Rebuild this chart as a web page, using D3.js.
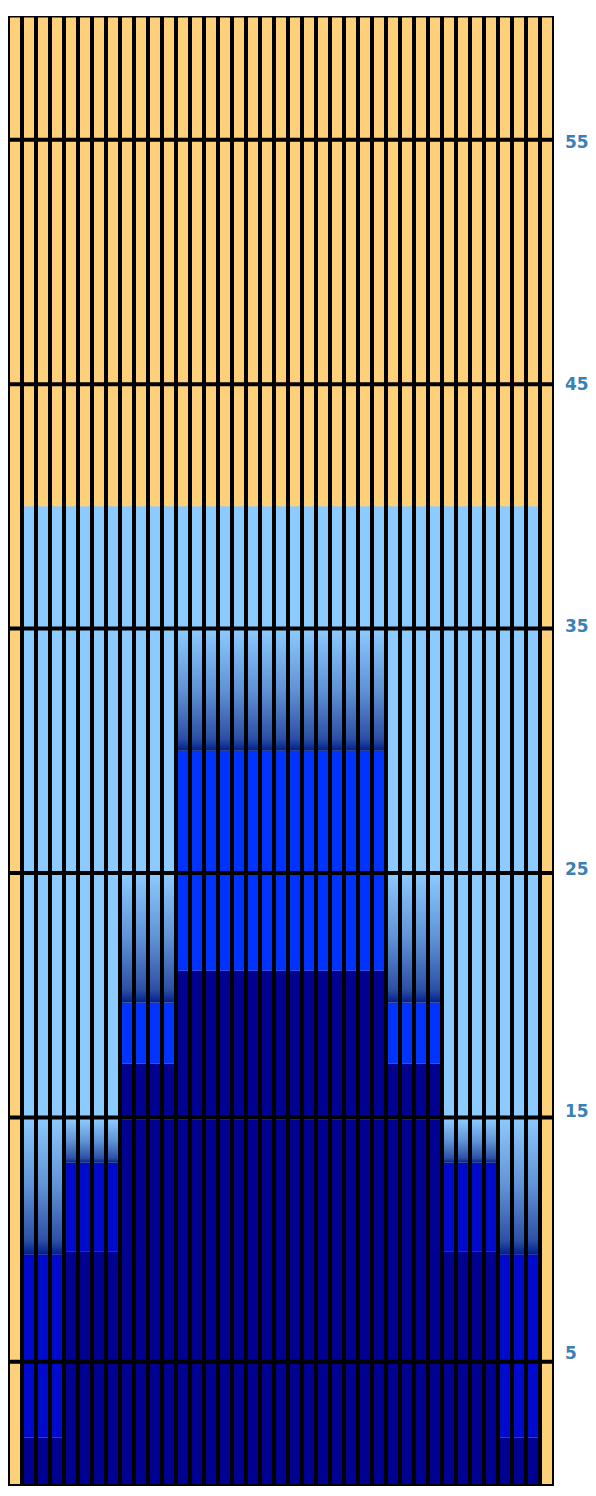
<!DOCTYPE html>
<html>
<head>
<meta charset="utf-8">
<script src="https://cdn.jsdelivr.net/npm/d3@7"></script>
<style>
  html, body { margin: 0; padding: 0; background: #ffffff; }
  svg { display: block; }
</style>
</head>
<body>
<script>
// ---------- data ----------
// profile index of each of the 39 columns (0 = empty edge column)
const columnProfile = [0,1,1,1,2,2,2,2,3,3,3,3,4,4,4,4,4,4,4,4,4,4,4,4,4,4,4,3,3,3,3,2,2,2,2,1,1,1,0];
// layer segments of each profile: [layer, bottom, top]
const profile0 = [];
const profile1 = [["navy",0,1.9],["blue",1.9,9.4],["gradient",9.4,15],["light",15,40]];
const profile2 = [["navy",0,9.5],["blue",9.5,13.15],["gradient",13.15,14.92],["light",15,40]];
const profile3 = [["navy",0,14.92],["navy",15,17.2],["bright",17.2,19.7],["gradient",19.7,25],["light",25,40]];
const profile4 = [["navy",0,14.92],["navy",15,21],["bright",21,30],["gradient",30,35],["light",35,40]];
const profiles = [profile0, profile1, profile2, profile3, profile4];
const yDomain = [0, 60];
const tickValues = [5, 15, 25, 35, 45, 55];

// ---------- styles ----------
const colors = {
  background: "#ffd07a",
  navy: "#000091",
  blue: "#000acc",
  bright: "#0033ff",
  light: "#8ccbff",
  gradient: "url(#grad)"
};

const W = 596, H = 1496;
const svg = d3.select("body").append("svg").attr("width", W).attr("height", H);

const defs = svg.append("defs");
const grad = defs.append("linearGradient").attr("id", "grad")
  .attr("x1", 0).attr("y1", 0).attr("x2", 0).attr("y2", 1);
grad.append("stop").attr("offset", "0%").attr("stop-color", "#8ccbff");
grad.append("stop").attr("offset", "50%").attr("stop-color", "#5f93d6");
grad.append("stop").attr("offset", "90%").attr("stop-color", "#2c4fa6");
grad.append("stop").attr("offset", "100%").attr("stop-color", "#00208c");

const x = d3.scaleBand()
  .domain(d3.range(columnProfile.length))
  .range([8, 554])
  .paddingInner(4/14)
  .paddingOuter(2/14);
const y = d3.scaleLinear().domain(yDomain).range([1484, 17.5]);
const yLabel = d3.scaleLinear().domain(yDomain).range([1474, 21]);

// frame / separators
svg.append("rect")
  .attr("x", 8).attr("y", 16)
  .attr("width", 546).attr("height", 1470)
  .attr("fill", "#000");

// column backgrounds
svg.append("g").selectAll("rect")
  .data(columnProfile.map((p, i) => i))
  .join("rect")
  .attr("x", i => x(i))
  .attr("width", x.bandwidth())
  .attr("y", y(yDomain[1]))
  .attr("height", y(yDomain[0]) - y(yDomain[1]))
  .attr("fill", colors.background);

// segments
const segs = [];
columnProfile.forEach((p, i) => {
  profiles[p].forEach(s => segs.push({col: i, layer: s[0], y0: s[1], y1: s[2]}));
});
svg.append("g").selectAll("rect")
  .data(segs)
  .join("rect")
  .attr("x", d => x(d.col))
  .attr("width", x.bandwidth())
  .attr("y", d => y(d.y1))
  .attr("height", d => y(d.y0) - y(d.y1))
  .attr("fill", d => colors[d.layer]);

// grid lines
svg.append("g").selectAll("line")
  .data(tickValues)
  .join("line")
  .attr("x1", 8).attr("x2", 554)
  .attr("y1", d => y(d)).attr("y2", d => y(d))
  .attr("stroke", "#000")
  .attr("stroke-width", 4);

// axis labels
const axis = d3.axisRight(yLabel).tickValues(tickValues).tickSize(0).tickPadding(0);
const ag = svg.append("g").attr("transform", "translate(565,0)").call(axis);
ag.select(".domain").remove();
ag.selectAll("text")
  .attr("fill", "#3a7fb5")
  .attr("font-family", "DejaVu Sans, Verdana, sans-serif")
  .attr("font-weight", "bold")
  .attr("font-size", 17)
  .attr("text-anchor", "start");
</script>
</body>
</html>
